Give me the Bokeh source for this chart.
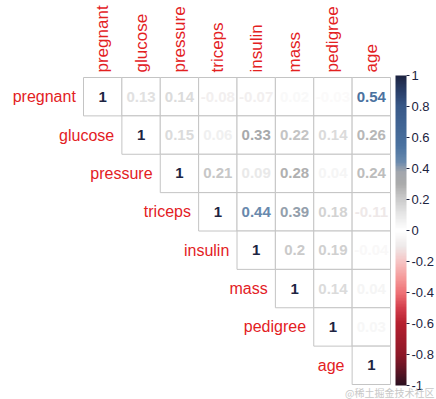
import math
from bokeh.plotting import figure
from bokeh.models import (ColumnDataSource, LinearColorMapper, ColorBar, FixedTicker,
                          CustomJSTickFormatter, Label, Range1d)
from bokeh.transform import linear_cmap
from bokeh.core.properties import value
from bokeh.embed import file_html
from bokeh.resources import INLINE

# ---- data -------------------------------------------------------------
variables = ["pregnant", "glucose", "pressure", "triceps", "insulin", "mass", "pedigree", "age"]
# upper triangle, row by row (starting at the diagonal)
r_pregnant = [1, 0.13, 0.14, -0.08, -0.07, 0.02, -0.03, 0.54]
r_glucose = [1, 0.15, 0.06, 0.33, 0.22, 0.14, 0.26]
r_pressure = [1, 0.21, 0.09, 0.28, 0.04, 0.24]
r_triceps = [1, 0.44, 0.39, 0.18, -0.11]
r_insulin = [1, 0.2, 0.19, -0.04]
r_mass = [1, 0.14, 0.04]
r_pedigree = [1, 0.03]
r_age = [1]
corr_rows = [r_pregnant, r_glucose, r_pressure, r_triceps, r_insulin, r_mass, r_pedigree, r_age]
bar_ticks = [-1, -0.8, -0.6, -0.4, -0.2, 0, 0.2, 0.4, 0.6, 0.8, 1]

# ---- palette (style) --------------------------------------------------
stops = [(-1.0, "#2a1020"), (-0.9, "#601424"), (-0.8, "#8e1828"), (-0.6, "#b51f2f"),
         (-0.5, "#d43e4c"), (-0.4, "#ef7276"), (-0.3, "#f59c9c"), (-0.2, "#f6c4c4"),
         (-0.1, "#eeeaea"), (0.0, "#ffffff"), (0.1, "#e8e8e8"), (0.2, "#cccccc"),
         (0.3, "#ababab"), (0.38, "#a2a6ac"), (0.44, "#6a8aae"), (0.54, "#4b73a0"),
         (0.8, "#385888"), (0.9, "#293e68"), (1.0, "#1c2340")]

def hex2rgb(h):
    return tuple(int(h[i:i + 2], 16) for i in (1, 3, 5))

def interp(v):
    for (a, ca), (b, cb) in zip(stops[:-1], stops[1:]):
        if a <= v <= b:
            t = (v - a) / (b - a)
            ra, rb = hex2rgb(ca), hex2rgb(cb)
            return "#%02x%02x%02x" % tuple(round(x + (y - x) * t) for x, y in zip(ra, rb))
    return stops[-1][1]

N = 200
palette = [interp(-1 + 2 * (k + 0.5) / N) for k in range(N)]

# ---- geometry ---------------------------------------------------------
W, H = 436, 399
GX0, GX1 = 83, 390
GY0, GY1 = 77, 384
n = len(variables)
cell = (GX1 - GX0) / n

p = figure(width=W, height=H,
           x_range=Range1d(-GX0 / cell, n + (W - GX1) / cell),
           y_range=Range1d(-(H - GY1) / cell, n + GY0 / cell),
           x_axis_type=None, y_axis_type=None,
           output_backend="svg", toolbar_location=None, min_border=0)
p.grid.visible = False
p.outline_line_color = None
p.background_fill_color = "white"

xs, ys, rs, labels = [], [], [], []
for i, row in enumerate(corr_rows):
    for k, r in enumerate(row):
        j = i + k
        xs.append(j + 0.5)
        ys.append(n - i - 0.5)
        rs.append(r)
        labels.append(f"{r:g}")
src = ColumnDataSource(dict(x=xs, y=ys, r=rs, label=labels))

p.rect(x="x", y="y", width=1, height=1, source=src, fill_color="white",
       line_color="#c4c4c4", line_width=1)
p.text(x="x", y="y", text="label", source=src,
       text_color=linear_cmap("r", palette, -1, 1),
       text_font=value("Liberation Sans"), text_font_size="15px", text_font_style="bold",
       text_align="center", text_baseline="middle")

red = "#e3211f"
p.text(x=[i - 0.2 for i in range(n)], y=[n - i - 0.5 for i in range(n)], text=variables,
       text_color=red, text_font=value("Liberation Sans"), text_font_size="16px",
       text_align="right", text_baseline="middle")
p.text(x=[j + 0.5 for j in range(n)], y=[n + 5 / cell] * n, text=variables,
       angle=math.pi / 2, text_color=red, text_font=value("Liberation Sans"),
       text_font_size="17px", text_align="left", text_baseline="middle")

mapper = LinearColorMapper(palette=palette, low=-1, high=1)
cb = ColorBar(color_mapper=mapper, location=(GX1 + 5, H - 385), width=11, height=310,
              padding=0, margin=0,
              ticker=FixedTicker(ticks=bar_ticks),
              formatter=CustomJSTickFormatter(code="return String(Math.round(tick*10)/10);"),
              major_label_text_font="Liberation Sans", major_label_text_font_size="13px",
              major_label_text_color="#1c2340",
              major_tick_in=0, major_tick_out=3, major_tick_line_color="#1c2340",
              bar_line_color=None, border_line_color=None, background_fill_alpha=0,
              label_standoff=2)
p.add_layout(cb)

p.add_layout(Label(x=W - 2, y=0, x_units="screen", y_units="screen",
                   text="@稀土掘金技术社区", text_align="right", text_baseline="bottom",
                   text_font="Noto Sans CJK SC", text_font_size="10px", text_color="#c8c8c8"))

open("out.html", "w").write(file_html(p, INLINE))
